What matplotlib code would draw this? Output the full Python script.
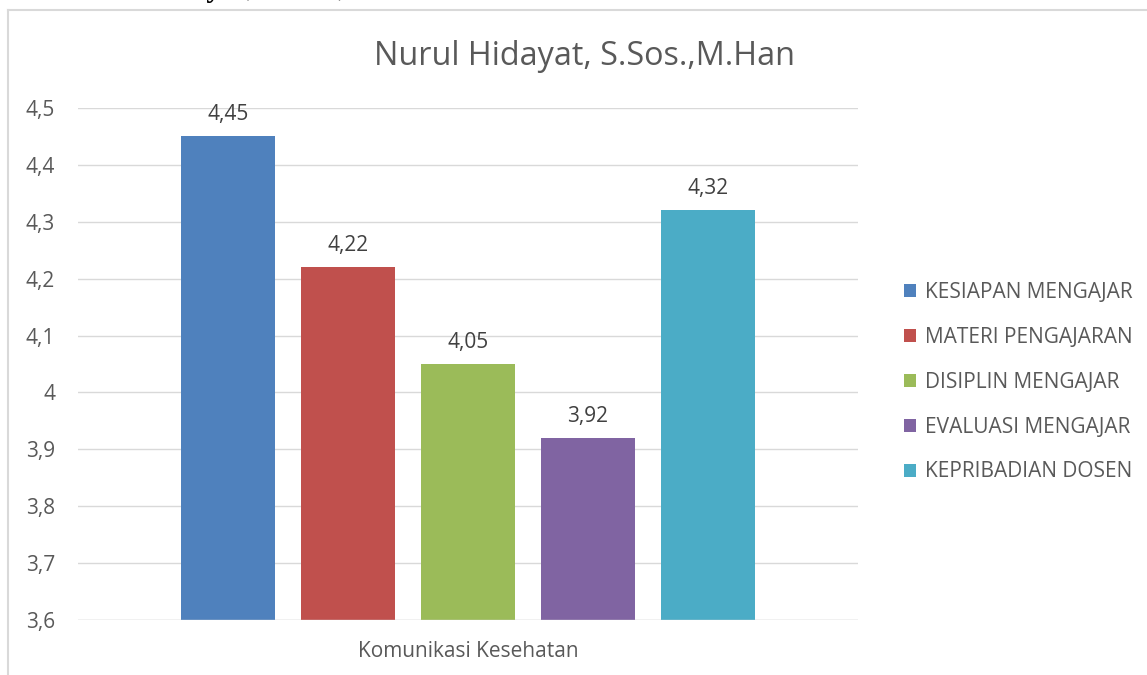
import matplotlib.pyplot as plt
from matplotlib.lines import Line2D
from matplotlib.patches import Patch

plt.rcParams["font.family"] = ["Open Sans", "DejaVu Sans"]

CATEGORY = "Komunikasi Kesehatan"
SERIES = ["KESIAPAN MENGAJAR", "MATERI PENGAJARAN", "DISIPLIN MENGAJAR",
          "EVALUASI MENGAJAR", "KEPRIBADIAN DOSEN"]
VALUES = [4.45, 4.22, 4.05, 3.92, 4.32]
COLORS = ["#4F81BD", "#C0504D", "#9BBB59", "#8064A2", "#4BACC6"]
YTICKS = [3.6, 3.7, 3.8, 3.9, 4.0, 4.1, 4.2, 4.3, 4.4, 4.5]
TITLE = "Nurul Hidayat, S.Sos.,M.Han"
TEXT = "#595959"


def fmt(v):
    s = f"{v:.2f}".rstrip("0").rstrip(".")
    return s.replace(".", ",")


fig = plt.figure(figsize=(11.47, 6.75), dpi=100)
ax = fig.add_axes([0.068, 0.0815, 0.68, 0.7585])

x = list(range(len(VALUES)))
bars = ax.bar(x, [v - YTICKS[0] for v in VALUES], bottom=YTICKS[0],
              width=0.79, color=COLORS, zorder=3)
for b, v in zip(bars, VALUES):
    ax.annotate(fmt(v), (b.get_x() + b.get_width() / 2, v),
                xytext=(0, 8), textcoords="offset points",
                ha="center", va="bottom", fontsize=15, color="#404040")

ax.set_xlim(-1.25, 5.25)
ax.set_ylim(YTICKS[0], YTICKS[-1])
ax.set_yticks(YTICKS)
ax.set_yticklabels([fmt(t) for t in YTICKS], fontsize=15, color=TEXT)
ax.set_xticks([2])
ax.set_xticklabels([CATEGORY], fontsize=15, color=TEXT)
ax.tick_params(length=0, pad=16.5)
ax.tick_params(axis="x", pad=15)
ax.grid(axis="y", color="#D9D9D9", linewidth=1, zorder=0)
for s in ax.spines.values():
    s.set_visible(False)
ax.axhline(YTICKS[0], color="#D9D9D9", linewidth=1, zorder=4)

fig.text(0.51, 0.917, TITLE, ha="center", va="center", fontsize=23.3, color=TEXT)

# cut-off heading from the page above the chart
fig.text(0.049, 1.006, "Nurul Hidayat, S.Sos., M.Han", ha="left", va="baseline",
         fontsize=22, fontweight="bold", family="Liberation Serif", color="black")

handles = [Patch(facecolor=c, label=l) for c, l in zip(COLORS, SERIES)]
fig.legend(handles=handles, loc="center left", bbox_to_anchor=(0.7717, 0.434),
           frameon=False, fontsize=15, labelcolor=TEXT, handlelength=0.6,
           handleheight=0.6, handletextpad=0.43, labelspacing=1.15)

# chart frame
fig.add_artist(Line2D([8 / 1147, 8 / 1147], [0, 1 - 9.5 / 675], color="#D9D9D9",
                      linewidth=1.5, transform=fig.transFigure))
fig.add_artist(Line2D([8 / 1147, 1], [1 - 9.5 / 675, 1 - 9.5 / 675], color="#D9D9D9",
                      linewidth=1.5, transform=fig.transFigure))

fig.savefig("out.png", dpi=100, facecolor="white")
